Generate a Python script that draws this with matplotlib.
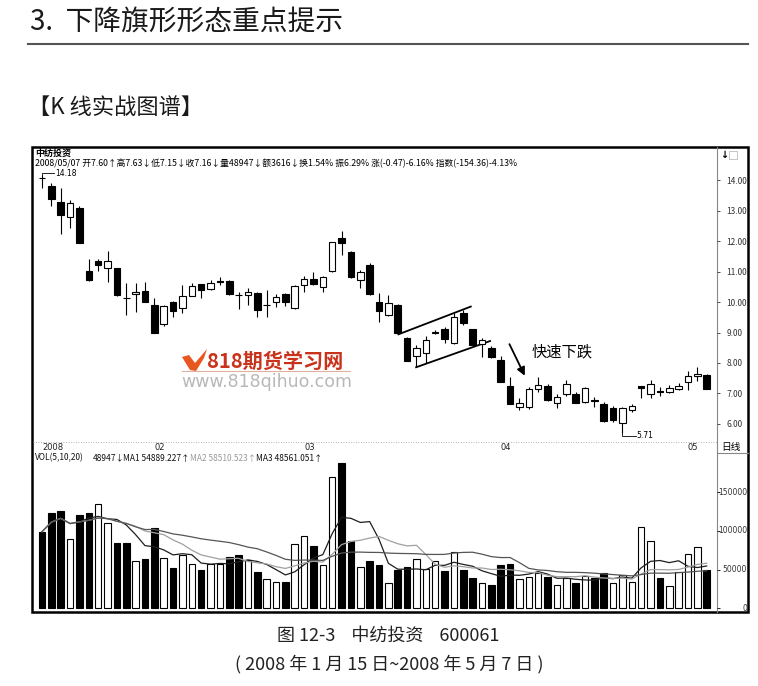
import numpy as np
import pandas as pd
import matplotlib
matplotlib.use('Agg')
import matplotlib.pyplot as plt
from matplotlib.patches import Rectangle, Polygon
from matplotlib.transforms import blended_transform_factory

plt.rcParams['font.family'] = ['Noto Sans CJK SC', 'DejaVu Sans']

W, H = 758, 686

# 日K线数据
opens = [14.08, 13.81, 13.29, 12.80, 13.09, 11.02, 11.33, 11.13, 11.10, 10.12,
         10.26, 10.36, 9.90, 9.27, 10.00, 9.81, 10.21, 10.58, 10.43, 10.68,
         10.70, 10.23, 10.23, 10.31, 9.91, 10.01, 10.26, 9.79, 10.56, 10.74,
         10.50, 11.03, 12.09, 11.65, 10.72, 11.21, 10.01, 9.57, 9.90, 8.81,
         8.23, 8.34, 9.00, 9.10, 8.65, 9.65, 9.10, 8.62, 8.48, 8.10,
         7.25, 6.57, 6.55, 7.14, 7.26, 6.68, 6.97, 6.97, 6.71, 6.78,
         6.64, 6.53, 6.02, 6.46, 7.25, 6.97, 7.07, 7.04, 7.15, 7.39,
         7.56, 7.60]
highs = [14.18, 13.90, 13.75, 13.34, 13.16, 11.40, 11.42, 11.67, 11.12, 10.61,
         10.61, 10.65, 10.14, 9.90, 10.02, 10.56, 10.62, 10.60, 10.72, 10.83,
         10.72, 10.34, 10.45, 10.34, 10.39, 10.26, 10.28, 10.55, 10.85, 10.97,
         10.85, 11.98, 12.34, 11.67, 11.05, 11.29, 10.29, 10.23, 9.92, 8.86,
         8.59, 8.89, 9.07, 9.19, 9.63, 9.74, 9.12, 8.81, 8.55, 8.23,
         7.55, 6.84, 7.20, 7.53, 7.30, 6.97, 7.44, 7.05, 7.20, 6.90,
         6.71, 6.60, 6.57, 6.64, 7.26, 7.44, 7.22, 7.28, 7.33, 7.74,
         7.88, 7.63]
lows = [13.75, 13.16, 12.23, 12.43, 11.92, 10.70, 11.02, 10.65, 10.20, 9.57,
        9.68, 9.99, 8.99, 9.20, 9.52, 9.63, 10.20, 10.14, 10.40, 10.56,
        10.24, 9.76, 9.90, 9.52, 9.52, 9.85, 9.87, 9.77, 10.34, 10.56,
        10.34, 11.00, 11.54, 10.80, 10.45, 10.24, 9.36, 9.55, 8.95, 8.06,
        7.86, 7.99, 8.94, 8.65, 8.63, 9.25, 8.57, 8.21, 8.15, 7.37,
        6.64, 6.46, 6.50, 7.06, 6.77, 6.51, 6.92, 6.68, 6.70, 6.57,
        6.08, 6.08, 5.71, 6.38, 6.86, 6.86, 6.93, 7.02, 7.12, 7.11,
        7.40, 7.15]
closes = [14.05, 13.37, 12.85, 13.24, 11.94, 10.73, 11.22, 11.33, 10.23, 10.13,
          10.34, 10.01, 9.00, 9.88, 9.69, 10.20, 10.54, 10.40, 10.61, 10.66,
          10.26, 10.22, 10.34, 9.74, 9.90, 10.17, 9.99, 10.52, 10.74, 10.59,
          10.81, 11.96, 11.92, 10.83, 10.97, 10.26, 9.69, 9.96, 8.97, 8.08,
          8.48, 8.75, 9.02, 8.78, 9.52, 9.32, 8.59, 8.75, 8.19, 7.39,
          6.66, 6.70, 7.14, 7.28, 6.79, 6.90, 7.30, 6.70, 7.19, 6.75,
          6.10, 6.13, 6.51, 6.60, 7.17, 7.30, 7.06, 7.17, 7.26, 7.58,
          7.63, 7.16]
volumes = [99000, 123600, 126200, 89200, 120600, 123600, 134400, 110700, 84900, 84900,
           61200, 63300, 103400, 64600, 52500, 68900, 56900, 49500, 57300, 57300,
           66800, 68900, 62500, 47400, 37500, 33600, 34500, 82700, 93500, 80500,
           56000, 170100, 187400, 87400, 53800, 61600, 55600, 32300, 49500, 53000,
           63700, 50400, 61600, 48700, 73200, 49500, 38800, 32300, 30200, 56000,
           57300, 37500, 40100, 46100, 40100, 30200, 38800, 32300, 41800, 38800,
           45200, 33200, 43100, 34500, 105500, 87000, 38800, 29300, 46500, 69800,
           78800, 48947]

month_labels = ['2008', '02', '03', '04', '05']
month_pos = [0, 12, 28, 49, 69]
price_ticks = [6, 7, 8, 9, 10, 11, 12, 13, 14]
vol_ticks = [0, 50000, 100000, 150000]
vol_ma = [(5, '#1e1e1e'), (10, '#a0a0a0'), (20, '#555555')]

fig = plt.figure(figsize=(W / 100, H / 100), dpi=100)
bg = fig.add_axes([0, 0, 1, 1])
bg.set_xlim(0, W)
bg.set_ylim(H, 0)
bg.axis('off')


def box(l, t, r, b):
    return [l / W, 1 - b / H, (r - l) / W, (b - t) / H]


ax = fig.add_axes(box(33, 148, 717, 440))
axv = fig.add_axes(box(33, 452, 717, 611))
for a in (ax, axv):
    a.set_facecolor('none')
    for s in a.spines.values():
        s.set_visible(False)
    a.set_xticks([])
    a.set_xlim(-0.96, 72.1)
    a.yaxis.tick_right()

x = np.arange(len(closes))
o = np.array(opens); c = np.array(closes); h = np.array(highs); l = np.array(lows)
up = c >= o
top = np.maximum(o, c); bot = np.minimum(o, c)

# K线
ax.vlines(x[~up], l[~up], h[~up], color='black', lw=0.8, zorder=2)
ax.vlines(x[up], top[up], h[up], color='black', lw=0.8, zorder=2)
ax.vlines(x[up], l[up], bot[up], color='black', lw=0.8, zorder=2)
ax.bar(x, np.maximum(top - bot, 0.015), bottom=bot, width=0.7,
       color=np.where(up, 'white', 'black'), edgecolor='black', lw=0.8, zorder=3)
ax.set_ylim(5.475, 15.05)
ax.set_yticks(price_ticks)
ax.set_yticklabels([f'{v:.2f}' for v in price_ticks])
ax.tick_params(axis='y', length=2, width=0.6, pad=5, labelsize=6, colors='#333333')

# 最高/最低价标注
imax = int(np.argmax(h)); imin = int(np.argmin(l))
ax.plot([imax, imax, imax + 1.3], [h[imax], h[imax] + 0.04, h[imax] + 0.04], color='black', lw=0.6)
ax.text(imax + 1.4, h[imax] + 0.02, f'{h[imax]:.2f}', fontsize=5.5, va='center', family='DejaVu Sans')
ax.plot([imin, imin, imin + 1.4], [l[imin], l[imin] - 0.09, l[imin] - 0.09], color='black', lw=0.6)
ax.text(imin + 1.5, l[imin] - 0.09, f'{l[imin]:.2f}', fontsize=5.5, va='center', family='DejaVu Sans')

# 旗形通道与箭头
ax.plot([38.07, 45.8], [8.94, 9.85], color='black', lw=1.3)
ax.plot([39.96, 47.86], [7.86, 8.72], color='black', lw=1.3)
ax.annotate('', xy=(51.7, 7.50), xytext=(49.8, 8.70),
            arrowprops=dict(arrowstyle='-|>', color='black', lw=1.3, mutation_scale=12))
ax.text(52.3, 8.37, '快速下跌', fontsize=11, va='center', ha='left')

# 成交量
prev = np.concatenate([[c[0] + 1], c[:-1]])
vup = c >= prev
axv.bar(x, volumes, width=0.7, color=np.where(vup, 'white', 'black'),
        edgecolor='black', lw=0.8, zorder=2)
vs = pd.Series(volumes, dtype=float)
for n, col in vol_ma:
    axv.plot(x, vs.rolling(n, min_periods=1).mean(), color=col, lw=0.9, zorder=3)
axv.set_ylim(-3500, 202000)
axv.set_yticks(vol_ticks)
axv.set_yticklabels([])
axv.tick_params(axis='y', length=2, width=0.6)
tv = blended_transform_factory(bg.transData, axv.transData)
for v in vol_ticks:
    axv.text(747, v, str(v), transform=tv, fontsize=5.5, ha='right', va='center',
             color='#333333', family='DejaVu Sans')

# 日期行
tm = blended_transform_factory(ax.transData, bg.transData)
for p, s in zip(month_pos, month_labels):
    ax.text(p, 447, s, transform=tm, fontsize=6, ha='left', va='center',
            family='DejaVu Sans', color='#222222')
bg.plot([33, 717], [442, 442], ls=(0, (1, 2)), color='#999999', lw=0.6)

# 框线
bg.add_patch(Rectangle((32, 147), 716, 465, fill=False, ec='black', lw=1.8))
bg.plot([717, 717], [147, 612], color='#888888', lw=0.8)
bg.plot([717, 748], [453, 453], color='#888888', lw=0.8)
bg.text(721, 447, '日线', fontsize=7, va='center', ha='left')
bg.text(720, 155, '↓', fontsize=7, fontweight='bold', va='center', family='DejaVu Sans')
bg.add_patch(Rectangle((729, 151), 8, 8, fill=False, ec='#bbbbbb', lw=0.6))

# 图表内文字
bg.text(35, 153, '中纺投资', fontsize=6.5, fontweight='bold', va='center')
bg.text(35, 163, '2008/05/07 开7.60↑高7.63↓低7.15↓收7.16↓量48947↓额3616↓换1.54% '
        '振6.29% 涨(-0.47)-6.16% 指数(-154.36)-4.13%', fontsize=6.3, va='center')
vol_head = [(35, 'VOL(5,10,20)', '#111111'), (93, '48947↓', '#111111'),
            (123, 'MA1 54889.227↑', '#111111'), (190, 'MA2 58510.523↑', '#9a9a9a'),
            (256, 'MA3 48561.051↑', '#111111')]
for px, s, col in vol_head:
    bg.text(px, 458, s, fontsize=6.0, va='center', color=col)

# 水印
bg.add_patch(Polygon([(182, 357), (189, 355), (195, 363), (207, 349), (204, 358),
                      (196, 371), (190, 370)], closed=True, fc='#e8571f', ec='none'))
bg.text(207, 361, '818期货学习网', fontsize=14.5, fontweight='bold', color='#c9331c',
        va='center', ha='left')
bg.plot([182, 350], [371, 371], color='#e0b0a0', lw=0.8)
bg.text(181, 382, 'www.818qihuo.com', fontsize=12.5, color='#b8b8b8', va='center',
        ha='left', family='DejaVu Sans')

# 页面标题与图注
bg.text(30, 22, '3.  下降旗形形态重点提示', fontsize=20, fontweight='medium', va='center',
        ha='left', color='#1a1a1a')
bg.plot([28, 748], [44, 44], color='#555555', lw=1.5)
bg.text(28, 107, '【K 线实战图谱】', fontsize=16, fontweight='medium', va='center',
        ha='left', color='#1a1a1a')
bg.text(388, 636, '图 12-3    中纺投资    600061', fontsize=13, fontweight='medium',
        va='center', ha='center', color='#222222')
bg.text(389, 664, '( 2008 年 1 月 15 日~2008 年 5 月 7 日 )', fontsize=13,
        fontweight='medium', va='center', ha='center', color='#222222')

fig.savefig('out.png', dpi=100)
